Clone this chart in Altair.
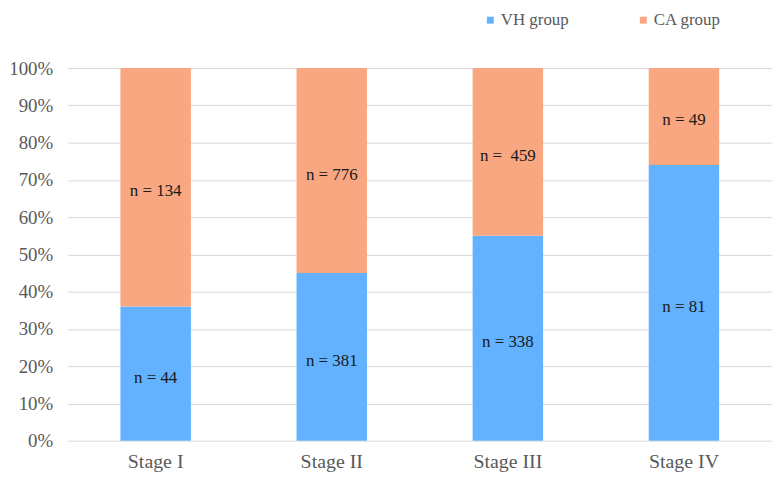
import altair as alt
import pandas as pd

stages = ["Stage I", "Stage II", "Stage III", "Stage IV"]
groups = ["VH group", "CA group"]
vh_pct = [36, 45, 55, 74]
ca_pct = [64, 55, 45, 26]
vh_labels = ["n = 44", "n = 381", "n = 338", "n = 81"]
ca_labels = ["n = 134", "n = 776", "n =\u00a0 459", "n = 49"]
tick_values = [0, 10, 20, 30, 40, 50, 60, 70, 80, 90, 100]

rows = []
for i, s in enumerate(stages):
    rows.append({"stage": s, "group": groups[0], "order": 0,
                 "start": 0, "end": vh_pct[i], "label": vh_labels[i]})
    rows.append({"stage": s, "group": groups[1], "order": 1,
                 "start": vh_pct[i], "end": vh_pct[i] + ca_pct[i], "label": ca_labels[i]})
df = pd.DataFrame(rows)
df["mid"] = (df["start"] + df["end"]) / 2

FONT = "Liberation Serif"

x_axis = alt.Axis(labelAngle=0, labelFontSize=20, labelColor="#595959",
                  labelFont=FONT, ticks=False, domain=False, labelPadding=11)
x_scale = alt.Scale(paddingInner=0.6, paddingOuter=0.3)
y_axis = alt.Axis(values=tick_values, labelExpr="datum.value + '%'",
                  labelOverlap=False, labelBound=False, tickCount=11,
                  labelFontSize=19, labelColor="#595959", labelFont=FONT,
                  ticks=False, domain=False, labelPadding=15,
                  grid=True, gridColor="#D9D9D9", gridWidth=1)
y_scale = alt.Scale(domain=[0, 100], nice=False, zero=True)

bars = alt.Chart(df).mark_bar().encode(
    x=alt.X("stage:N", sort=stages, title=None, scale=x_scale, axis=x_axis),
    y=alt.Y("start:Q", title=None, scale=y_scale, axis=y_axis),
    y2="end:Q",
    color=alt.Color("group:N", sort=groups,
                    scale=alt.Scale(domain=groups, range=["#63B2FF", "#F9A780"]),
                    legend=alt.Legend(title=None, orient="none", direction="horizontal",
                                      legendX=417, legendY=-57, symbolType="square",
                                      symbolSize=49, symbolStrokeWidth=0,
                                      labelFont=FONT, labelFontSize=17,
                                      labelColor="#595959", labelOffset=2,
                                      columnPadding=66)),
    order=alt.Order("order:Q"),
)

texts = alt.Chart(df).mark_text(font=FONT, fontSize=17, color="#1a1a1a", dy=4).encode(
    x=alt.X("stage:N", sort=stages, title=None, scale=x_scale, axis=x_axis),
    y=alt.Y("mid:Q", title=None, scale=y_scale, axis=y_axis),
    text="label:N",
)

chart = alt.layer(bars, texts).properties(
    width=709, height=375,
    padding={"left": 60, "top": 59, "right": 0, "bottom": 30},
    autosize=alt.AutoSizeParams(type="none"),
    background="white",
).configure_view(stroke=None)

chart.save("out.html", embed_options={"renderer": "svg", "actions": False})
